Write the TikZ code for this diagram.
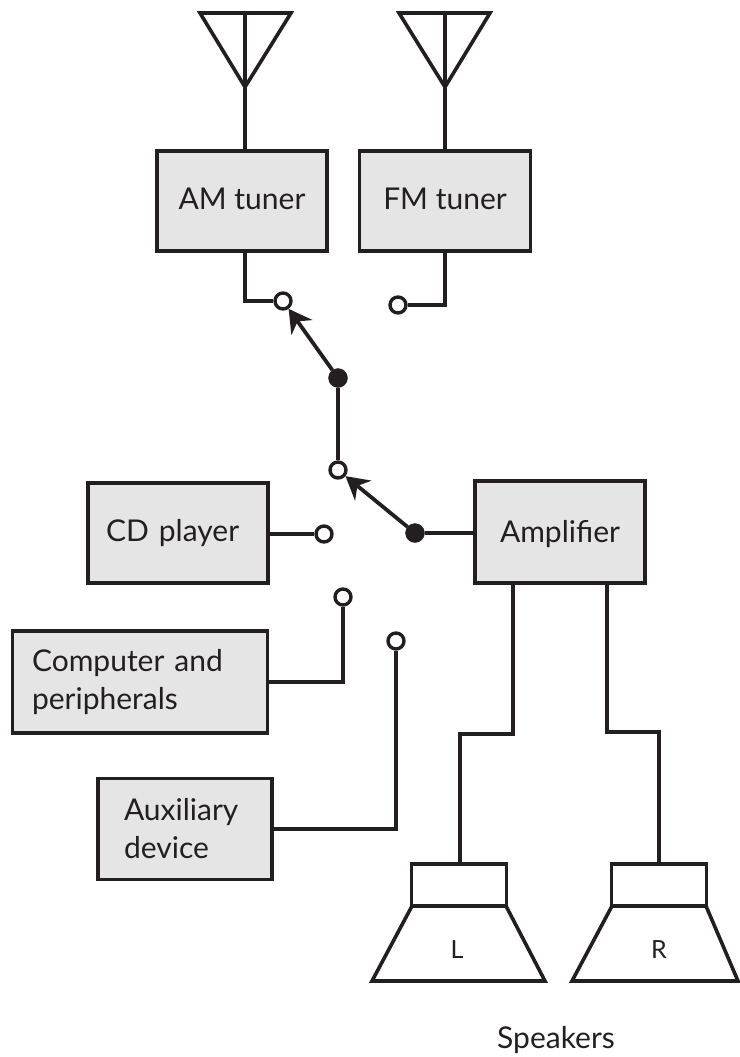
\documentclass[tikz,border=0pt]{standalone}
\usepackage{fontspec}
\setmainfont{Lato}
\usepackage{xcolor}
\usetikzlibrary{calc,arrows.meta,positioning}
\definecolor{boxg}{RGB}{229,229,229}
\definecolor{inkc}{RGB}{35,31,32}

\begin{document}
\begin{tikzpicture}[x=1pt,y=-1pt,
  >={Stealth[length=8mm,width=9mm,inset=2.6mm]},
  every node/.style={font=\fontsize{30}{38}\selectfont, text=inkc},
  unit/.style={draw=inkc, line width=3.8pt, fill=boxg, align=left, inner sep=0pt},
  opent/.style={circle, draw=inkc, line width=3.4pt, fill=white, minimum size=16pt, inner sep=0pt},
  pivot/.style={circle, draw=inkc, fill=inkc, minimum size=19pt, inner sep=0pt},
  wire/.style={draw=inkc, line width=3.6pt},
  swarm/.style={->, draw=inkc, line width=3.8pt},
  cone/.style={draw=inkc, line width=3.6pt, fill=white, minimum width=95pt, minimum height=42pt, inner sep=0pt},
]
\useasboundingbox (0,0) rectangle (739,1057);

% tuners
\node[unit, minimum width=170pt, minimum height=100pt, text depth=4pt] (am) at (242,201) {AM tuner};
\node[unit, minimum width=171pt, minimum height=100pt, text depth=4pt] (fm) at (445,201) {FM tuner};
\node[unit, minimum width=180pt, minimum height=100pt, text width=144pt] (cd) at (178,533) {CD player};
\node[unit, minimum width=255pt, minimum height=102pt, text width=216pt] (comp) at (140,682) {Computer and\\peripherals};
\node[unit, minimum width=174pt, minimum height=101pt, text width=122pt] (aux) at (185,829) {Auxiliary\\device};
\node[unit, minimum width=170pt, minimum height=102pt, text height=26pt] (amp) at (560,532) {Amplifier};

% antennas
\coordinate (ama) at (245,87);
\coordinate (fma) at (445,87);
\coordinate (amtop) at (245,13);
\coordinate (fmtop) at (445,13);
\draw[wire, line join=miter] (200,13) -- (291,13) -- (ama) -- cycle;
\draw[wire] (amtop) -- (ama) -- (ama |- am.north);
\draw[wire, line join=miter] (399,13) -- (490,13) -- (fma) -- cycle;
\draw[wire] (fmtop) -- (fma) -- (fma |- fm.north);

% contacts
\node[opent] (c1) at (283,301) {};
\node[opent] (c2) at (398,305) {};
\node[pivot] (p1) at (338,378) {};
\node[opent] (c3) at (338,470) {};
\node[pivot] (p2) at (415,533) {};
\node[opent] (c4) at (324,534) {};
\node[opent] (c5) at (343,597) {};
\node[opent] (c6) at (396,641) {};

\draw[wire] (ama |- am.south) |- (c1);
\draw[wire] (fma |- fm.south) |- (c2);
\draw[wire] (c4 -| cd.east) -- (c4);
\draw[wire] (c5) |- (comp.east);
\draw[wire] (c6) |- (aux.east);
\draw[wire] (p1) -- (c3);
\draw[wire] (p2) -- (p2 -| amp.west);
\draw[swarm] (p1) -- (c1);
\draw[swarm] (p2) -- (c3);

% speakers
\node[cone] (boxl) at (459,885) {};
\node[cone] (boxr) at (659,885) {};
\draw[wire, line join=miter] (412,906) -- (506,906) -- (545,981) -- (372,981) -- cycle;
\draw[wire, line join=miter] (612,906) -- (706,906) -- (738,981) -- (572,981) -- cycle;
\node[font=\fontsize{25}{28}\selectfont] (lbl) at (457,950) {L};
\node[font=\fontsize{25}{28}\selectfont] (rbl) at (659,950) {R};
\node (spk) at (556,1040) {Speakers};

\coordinate (ampl) at (513,734);
\coordinate (ampr) at (607,732);
\draw[wire] (ampl |- amp.south) -- (ampl) -- (460,734) -- (460,864);
\draw[wire] (ampr |- amp.south) -- (ampr) -- (659,732) -- (boxr.north);
\end{tikzpicture}
\end{document}
